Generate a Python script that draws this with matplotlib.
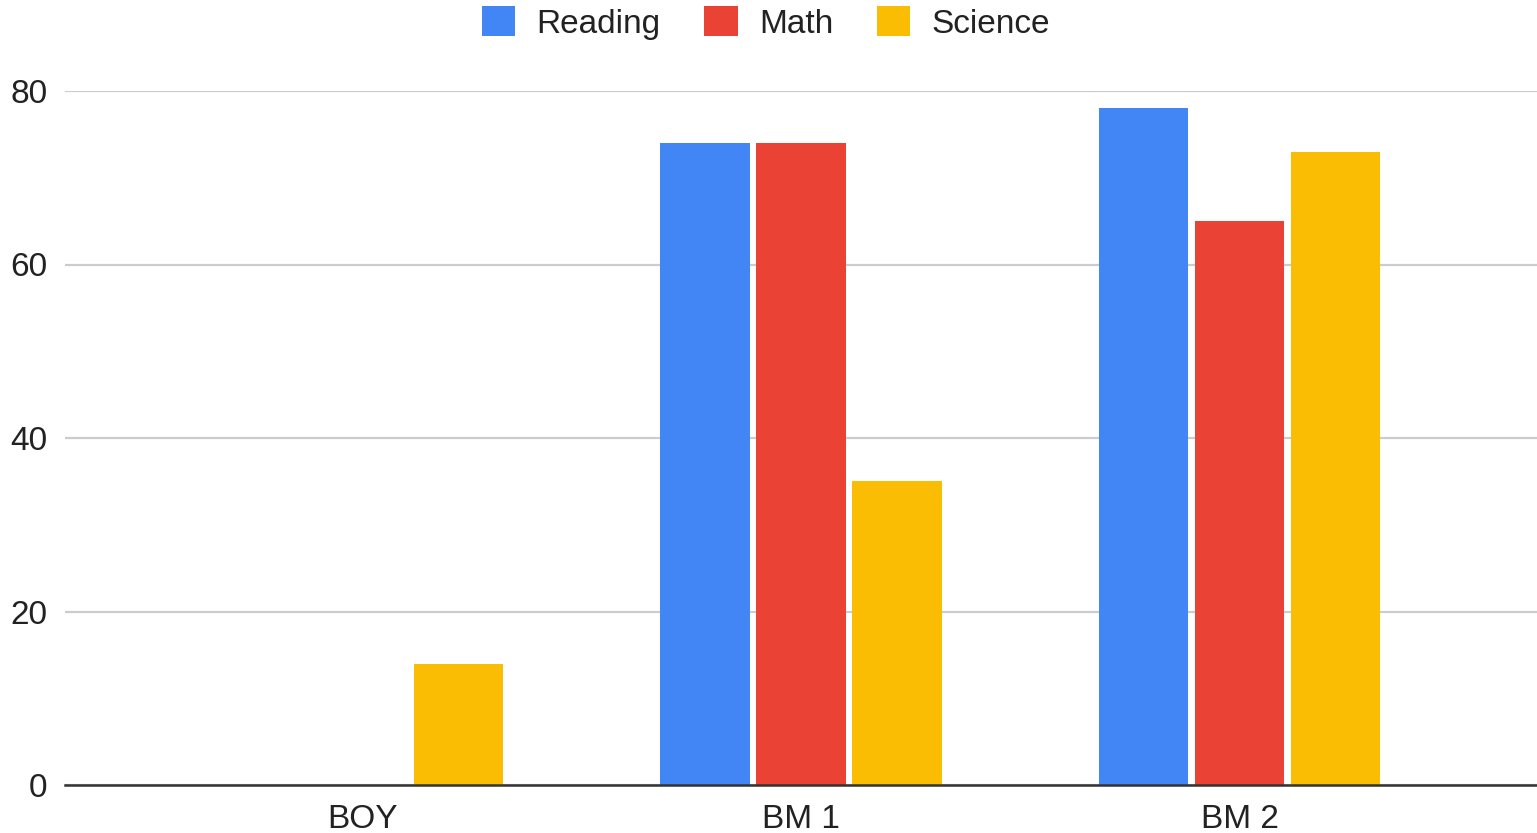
import matplotlib
matplotlib.use("Agg")
import matplotlib.pyplot as plt
from matplotlib.patches import Patch
import numpy as np

categories = ["BOY", "BM 1", "BM 2"]
series_names = ["Reading", "Math", "Science"]
reading = [0, 74, 78]
math_scores = [0, 74, 65]
science = [14, 35, 73]
colors = ["#4285F4", "#EA4335", "#FBBC04"]
y_ticks = [0, 20, 40, 60, 80]

plt.rcParams["font.family"] = ["Liberation Sans", "DejaVu Sans"]

W, H = 1537, 833
fig = plt.figure(figsize=(W / 100, H / 100), dpi=100)
ax = fig.add_axes([65 / W, 48 / H, 1 - 65 / W, (785 - 91) / H])

x = np.arange(len(categories))
offset = 0.2187
width = 0.203
for i, (vals, name, c) in enumerate(zip([reading, math_scores, science], series_names, colors)):
    ax.bar(x + (i - 1) * offset, vals, width=width, color=c, label=name, zorder=3)

ax.set_xlim(-0.677, 2.677)
ax.set_ylim(0, 80)
ax.set_yticks(y_ticks)
ax.set_xticks(x)
ax.set_xticklabels(categories)
ax.tick_params(axis="both", length=0, labelsize=24, labelcolor="#222222")
ax.tick_params(axis="y", pad=12.5)
ax.tick_params(axis="x", pad=14)
ax.grid(axis="y", color="#cccccc", linewidth=1.6, zorder=0)
for s in ["top", "right", "left"]:
    ax.spines[s].set_visible(False)
ax.spines["bottom"].set_color("#333333")
ax.spines["bottom"].set_linewidth(1.8)
ax.spines["bottom"].set_zorder(4)

handles = [Patch(facecolor=c, label=n) for c, n in zip(colors, series_names)]
fig.legend(handles=handles, loc="center", bbox_to_anchor=(766 / W, 1 - 23 / H),
           ncol=3, frameon=False, fontsize=24, handlelength=1.0, handleheight=1.0,
           handletextpad=0.65, columnspacing=1.3, labelcolor="#222222")

fig.savefig("out.png", dpi=100)
